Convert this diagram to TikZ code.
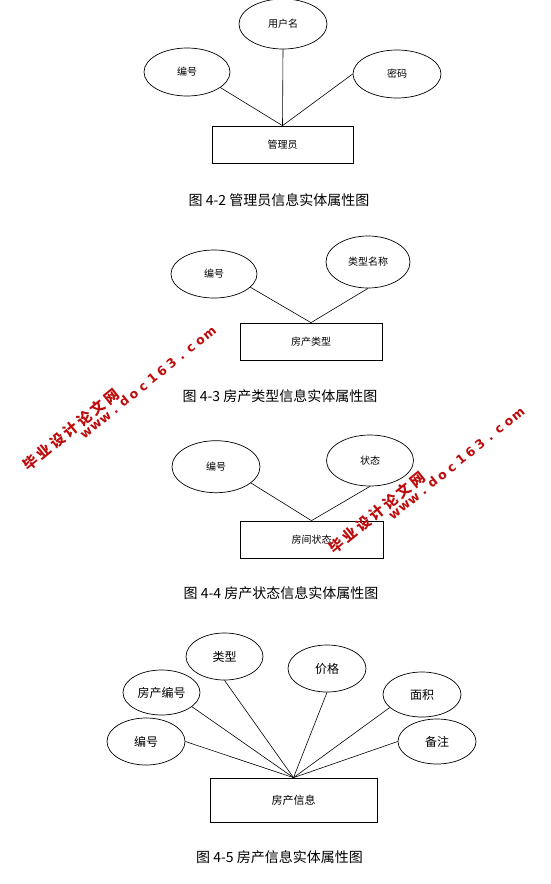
\documentclass[tikz,border=0pt]{standalone}
\usepackage{fontspec}
\newfontfamily\cjk{Noto Sans CJK SC}
\newfontfamily\wmlat{DejaVu Sans}
\usetikzlibrary{shapes.geometric}
\definecolor{wmred}{RGB}{190,10,10}
\newcommand\wmc[1]{\makebox[17.4pt]{#1}}
\newcommand\wml[1]{\makebox[12.2pt]{#1}}
\newcommand\wmcntext{\wmc{毕}\wmc{业}\wmc{设}\wmc{计}\wmc{论}\wmc{文}\wmc{网}}
\newcommand\wmentext{\wml{w}\wml{w}\wml{w}\wml{.}\wml{d}\wml{o}\wml{c}\wml{1}\wml{6}\wml{3}\wml{.}\wml{c}\wml{o}\wml{m}}
\tikzset{
  attr/.style={draw, ellipse, line width=0.7pt, inner sep=0pt, font=\cjk\fontsize{10}{12}\selectfont},
  attrb/.style={attr, font=\cjk\fontsize{12}{14}\selectfont},
  ent/.style={draw, rectangle, line width=0.7pt, inner sep=0pt, font=\cjk\fontsize{10}{12}\selectfont},
  link/.style={line width=0.6pt},
  captxt/.style={font=\cjk\fontsize{14}{16}\selectfont, inner sep=0pt},
  wmcn/.style={text=wmred, inner sep=0pt, font=\cjk\bfseries\fontsize{14.5}{16}\selectfont, rotate=39},
  wmen/.style={text=wmred, inner sep=0pt, font=\wmlat\bfseries\fontsize{12.5}{14}\selectfont, rotate=39, text height=1.3ex, text depth=0.2ex}
}
\begin{document}
\begin{tikzpicture}[x=1pt,y=-1pt]
\useasboundingbox[fill=white] (0,0) rectangle (550,884);

% ---------- Figure 4-2 ----------
\node[attr, minimum width=88, minimum height=50] (a1) at (283,24) {用户名};
\node[attr, minimum width=86, minimum height=48] (b1) at (187,72) {编号};
\node[attr, minimum width=88, minimum height=48] (c1) at (397,74) {密码};
\node[ent, minimum width=141, minimum height=37] (r1) at (282.5,144.5) {管理员};
\draw[link] (b1.-25) -- (r1.north);
\draw[link] (a1.south) -- (r1.north);
\draw[link] (c1.west) -- (r1.north);
\node[captxt] (t1) at (279,200) {图 4-2 管理员信息实体属性图};

% ---------- Figure 4-3 ----------
\node[attr, minimum width=86, minimum height=48] (b2) at (214,274) {编号};
\node[attr, minimum width=84, minimum height=52] (c2) at (368,262) {类型名称};
\node[ent, minimum width=142, minimum height=37] (r2) at (311,341.5) {房产类型};
\draw[link] (b2.-20) -- (r2.north);
\draw[link] (c2.south) -- (r2.north);
\node[captxt] (t2) at (280,396) {图 4-3 房产类型信息实体属性图};

% ---------- Figure 4-4 ----------
\node[attr, minimum width=88, minimum height=52] (b3) at (216,466.7) {编号};
\node[attr, minimum width=87, minimum height=51] (c3) at (370,460.5) {状态};
\node[ent, minimum width=143, minimum height=37] (r3) at (311.5,539.5) {房间状态};
\draw[link] (b3.-25) -- (r3.north);
\draw[link] (c3.south) -- (r3.north);
\node[captxt] (t3) at (281,593) {图 4-4 房产状态信息实体属性图};

% ---------- Figure 4-5 ----------
\node[attrb, minimum width=78, minimum height=47] (e1) at (146,741.5) {编号};
\node[attrb, minimum width=77, minimum height=45] (e2) at (161.5,692.5) {房产编号};
\node[attrb, minimum width=77, minimum height=47] (e3) at (224.5,656.5) {类型};
\node[attrb, minimum width=78, minimum height=47] (e4) at (327,668.5) {价格};
\node[attrb, minimum width=78, minimum height=45] (e5) at (422,694.5) {面积};
\node[attrb, minimum width=78, minimum height=45] (e6) at (437,741.5) {备注};
\node[ent, minimum width=167, minimum height=44, font=\cjk\fontsize{11}{13}\selectfont] (r4) at (293.5,800) {房产信息};
\draw[link] (e1.east) -- (r4.north);
\draw[link] (e2.-25) -- (r4.north);
\draw[link] (e3.south) -- (r4.north);
\draw[link] (e4.south) -- (r4.north);
\draw[link] (e5.202) -- (r4.north);
\draw[link] (e6.west) -- (r4.north);
\node[captxt] (t4) at (279.5,857) {图 4-5 房产信息实体属性图};

% ---------- watermarks ----------
\node[wmcn] (wa) at (71,429.5) {\wmcntext};
\node[wmen] (wc) at (149,384) {\wmentext};
\node[wmcn] (wb) at (377,512.5) {\wmcntext};
\node[wmen] (wd) at (457.5,465) {\wmentext};
\end{tikzpicture}
\end{document}
